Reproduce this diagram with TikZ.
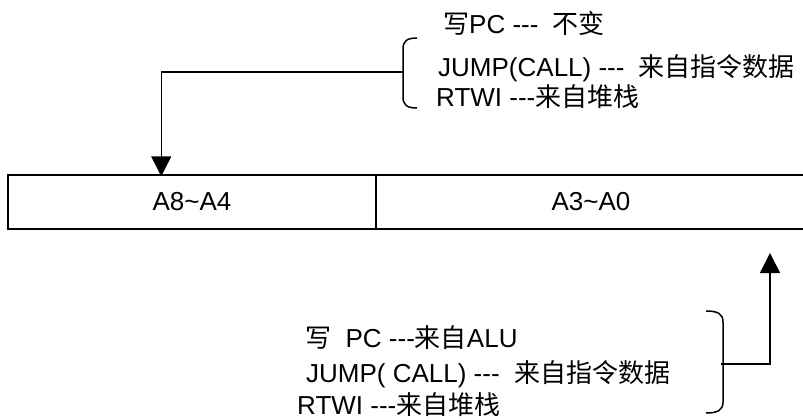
\documentclass[tikz,border=0pt]{standalone}
\usepackage{fontspec}
\setmainfont{Liberation Sans}[Ligatures=TeXOff]
\newfontfamily\cjk{Noto Sans CJK SC}
\usetikzlibrary{arrows.meta}
\begin{document}
\begin{tikzpicture}[x=1pt,y=-1pt,
  txt/.style={anchor=base west, inner sep=0pt, font=\fontsize{26}{26}\selectfont},
  cell/.style={draw, line width=1.5pt, minimum height=54pt, inner sep=0pt, font=\fontsize{26}{26}\selectfont},
  conn/.style={line width=1.5pt},
  bracestyle/.style={line width=1.5pt},
  tipped/.style={-{Triangle[length=20pt,width=20pt]}}]
\useasboundingbox (0,0) rectangle (803,420);

% register cells
\node[cell, minimum width=368pt] (c1) at (192,202) {A8\textasciitilde A4};
\node[cell, minimum width=430pt] (c2) at (591,202) {A3\textasciitilde A0};

% top texts
\node[txt] (t1) at (443,34) {{\cjk 写}PC ---\ \ {\cjk 不变}};
\node[txt] (t2) at (438,77) {JUMP(CALL) ---\ \ {\cjk 来自指令数据}};
\node[txt] (t3) at (436,106) {RTWI ---{\cjk 来自堆栈}};

% top brace
\draw[bracestyle] (417,38) .. controls (407,38) and (403,41) .. (403,49) -- (403,97) .. controls (403,105) and (407,108) .. (417,108);
\coordinate (bt) at (403,72);
\draw[conn,tipped] (bt) -| ([xshift=154pt,yshift=-2pt]c1.north west);

% bottom texts
\node[txt] (b1) at (305,347) {{\cjk 写}\ \ PC ---{\cjk 来自}ALU};
\node[txt] (b2) at (306,382) {JUMP( CALL) ---\ \ {\cjk 来自指令数据}};
\node[txt] (b3) at (297,414) {RTWI ---{\cjk 来自堆栈}};

% bottom brace
\draw[bracestyle] (706,311) .. controls (718,311) and (723,314) .. (723,322) -- (723,402) .. controls (723,410) and (718,413) .. (706,413);
\coordinate (bb) at (721,364);
\coordinate (ua) at (770,253);
\draw[conn,tipped] (bb) -| (ua);
\end{tikzpicture}
\end{document}
